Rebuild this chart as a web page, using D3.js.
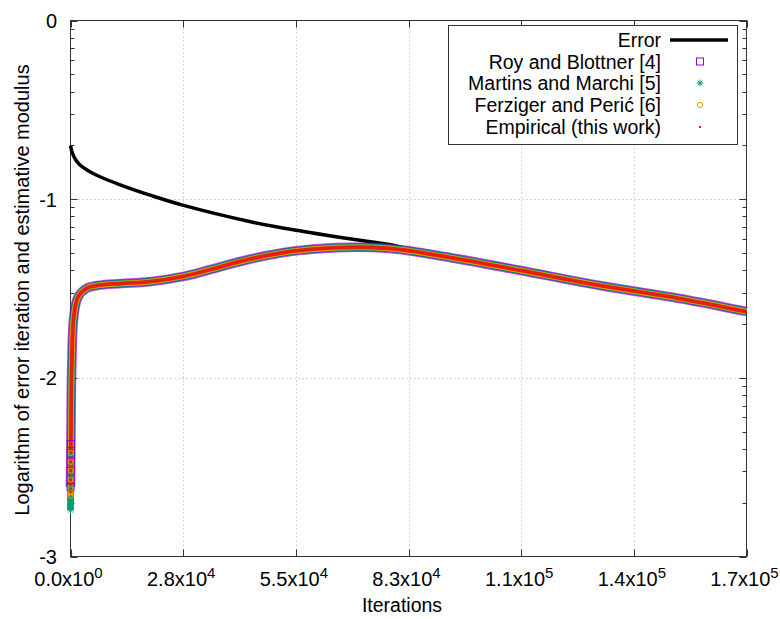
<!DOCTYPE html>
<html><head><meta charset="utf-8">
<script src="https://cdn.jsdelivr.net/npm/d3@7"></script>
<style>body{margin:0;background:#fff}svg{display:block}text{font-family:"Liberation Sans",Arial,sans-serif;fill:#000}</style>
</head><body><svg id="c" width="780" height="619"></svg>
<script>
// ---- data ----
const xTicks = [0, 27600, 55200, 82800, 110400, 138000, 165600];
const xTickMant = ["0.0", "2.8", "5.5", "8.3", "1.1", "1.4", "1.7"];
const xTickExp = ["0", "4", "4", "4", "5", "5", "5"];
const yTicks = [0, -1, -2, -3];
const yTickLabels = ["0", "-1", "-2", "-3"];

const errIter = [0, 490, 1225, 2205, 4650, 7100, 12000, 20100, 27700, 43850, 54900, 68350, 78150, 82800, 92850, 110250, 129600, 149200, 165600];
const errVal = [-0.70, -0.744, -0.778, -0.806, -0.845, -0.873, -0.918, -0.982, -1.035, -1.125, -1.173, -1.222, -1.254, -1.280, -1.326, -1.399, -1.483, -1.556, -1.629];

const estIter = [0, 120, 320, 800, 1800, 3850, 6600, 12500, 19350, 27700, 34050, 43850, 54900, 65150, 78150, 92850, 110250, 129600, 149200, 165600];
const royVal = [-2.61, -2.29, -1.92, -1.66, -1.55, -1.50, -1.483, -1.472, -1.462, -1.432, -1.395, -1.336, -1.290, -1.271, -1.276, -1.326, -1.399, -1.483, -1.556, -1.629];
const martinsVal = [-2.74, -2.29, -1.92, -1.66, -1.55, -1.50, -1.483, -1.472, -1.462, -1.432, -1.395, -1.336, -1.290, -1.271, -1.276, -1.326, -1.399, -1.483, -1.556, -1.629];
const ferzigerVal = [-2.66, -2.29, -1.92, -1.66, -1.55, -1.50, -1.483, -1.472, -1.462, -1.432, -1.395, -1.336, -1.290, -1.271, -1.276, -1.326, -1.399, -1.483, -1.556, -1.629];
const empiricalVal = [-2.64, -2.29, -1.92, -1.66, -1.55, -1.50, -1.483, -1.472, -1.462, -1.432, -1.395, -1.336, -1.290, -1.271, -1.276, -1.326, -1.399, -1.483, -1.556, -1.629];

const earlyIter = [10, 30, 50, 70, 90, 110];
const royEarly = [-2.61, -2.57, -2.52, -2.47, -2.42, -2.37];
const martinsEarly = [-2.74, -2.675, -2.61, -2.55, -2.49, -2.43];
const ferzigerEarly = [-2.66, -2.62, -2.57, -2.52, -2.47, -2.42];
const empiricalEarly = [-2.64, -2.60, -2.55, -2.50, -2.45, -2.40];

const seriesNames = ["Error", "Roy and Blottner [4]", "Martins and Marchi [5]", "Ferziger and Perić [6]", "Empirical (this work)"];

// ---- layout ----
const svg = d3.select("#c");
const L = 70.5, R = 746.5, T = 20.5, B = 556.5;
const x = d3.scaleLinear().domain([0, 165600]).range([L, R]);
const y = d3.scaleLinear().domain([-3, 0]).range([B, T]);

// grid
const g = svg.append("g");
g.selectAll(".vg").data(xTicks.slice(1, -1)).enter().append("line")
  .attr("x1", d => Math.round(x(d)) + 0.5).attr("x2", d => Math.round(x(d)) + 0.5)
  .attr("y1", T).attr("y2", B).attr("stroke", "#c8c8c8").attr("stroke-dasharray", "1.5,2.5");
g.selectAll(".hg").data(yTicks.slice(1, -1)).enter().append("line")
  .attr("y1", d => Math.round(y(d)) + 0.5).attr("y2", d => Math.round(y(d)) + 0.5)
  .attr("x1", L).attr("x2", R).attr("stroke", "#c8c8c8").attr("stroke-dasharray", "1.5,2.5");

// ticks (inward, mirrored)
const minorY = [];
for (let n = -3; n < 0; n++) for (let k = 2; k <= 9; k++) minorY.push(n + Math.log10(k));
const tk = svg.append("g").attr("stroke", "#333").attr("stroke-width", 1);
yTicks.forEach(v => {
  const yy = Math.round(y(v)) + 0.5;
  tk.append("line").attr("x1", L).attr("x2", L + 7).attr("y1", yy).attr("y2", yy);
  tk.append("line").attr("x1", R).attr("x2", R - 7).attr("y1", yy).attr("y2", yy);
});
minorY.forEach(v => {
  const yy = Math.round(y(v)) + 0.5;
  tk.append("line").attr("x1", L).attr("x2", L + 4).attr("y1", yy).attr("y2", yy);
  tk.append("line").attr("x1", R).attr("x2", R - 4).attr("y1", yy).attr("y2", yy);
});
xTicks.forEach(v => {
  const xx = Math.round(x(v)) + 0.5;
  tk.append("line").attr("x1", xx).attr("x2", xx).attr("y1", B).attr("y2", B - 7);
  tk.append("line").attr("x1", xx).attr("x2", xx).attr("y1", T).attr("y2", T + 7);
});

// frame
svg.append("rect").attr("x", L).attr("y", T).attr("width", R - L).attr("height", B - T)
  .attr("fill", "none").attr("stroke", "#333").attr("stroke-width", 1);

// tick labels
yTicks.forEach((v, i) => {
  svg.append("text").attr("x", 57).attr("y", y(v) + 7.5).attr("text-anchor", "end")
    .attr("font-size", 20).text(yTickLabels[i]);
});
xTicks.forEach((v, i) => {
  const t = svg.append("text").attr("x", x(v) - 2).attr("y", 586).attr("text-anchor", "middle").attr("font-size", 20);
  t.append("tspan").text(xTickMant[i] + "x10");
  t.append("tspan").attr("dy", -8).attr("font-size", 15).text(xTickExp[i]);
});

// axis titles
svg.append("text").attr("x", 402).attr("y", 612).attr("text-anchor", "middle").attr("font-size", 19.5).text("Iterations");
svg.append("text").attr("transform", "translate(29,290) rotate(-90)").attr("text-anchor", "middle")
  .attr("font-size", 20).text("Logarithm of error iteration and estimative modulus");

// lines
const zip = (a, b) => a.map((v, i) => [v, b[i]]);
const line = d3.line().x(d => x(d[0])).y(d => y(d[1])).curve(d3.curveCatmullRom.alpha(0.5));

svg.append("path").datum(zip(errIter, errVal)).attr("d", line)
  .attr("fill", "none").attr("stroke", "#000").attr("stroke-width", 3.5);

const bands = [
  {vals: royVal, color: "#9400d3", w: 9.6, op: 0.7},
  {vals: royVal, color: "#4a3aa8", w: 7.8, op: 1},
  {vals: martinsVal, color: "#009e73", w: 6.8, op: 1},
  {vals: ferzigerVal, color: "#e69f00", w: 5.6, op: 1},
  {vals: empiricalVal, color: "#e51e10", w: 3.8, op: 1}
];
bands.forEach(b => {
  svg.append("path").datum(zip(estIter, b.vals)).attr("d", line)
    .attr("fill", "none").attr("stroke", b.color).attr("stroke-width", b.w).attr("stroke-opacity", b.op);
});

// early markers
function square(sel, cx, cy) {
  sel.append("rect").attr("x", cx - 3.5).attr("y", cy - 3.5).attr("width", 7).attr("height", 7)
    .attr("fill", "none").attr("stroke", "#9400d3").attr("stroke-width", 1);
}
function star(sel, cx, cy) {
  const s = 3.5, gg = sel.append("g").attr("stroke", "#009e73").attr("stroke-width", 1);
  gg.append("line").attr("x1", cx - s).attr("x2", cx + s).attr("y1", cy).attr("y2", cy);
  gg.append("line").attr("x1", cx).attr("x2", cx).attr("y1", cy - s).attr("y2", cy + s);
  gg.append("line").attr("x1", cx - s * .7).attr("x2", cx + s * .7).attr("y1", cy - s * .7).attr("y2", cy + s * .7);
  gg.append("line").attr("x1", cx - s * .7).attr("x2", cx + s * .7).attr("y1", cy + s * .7).attr("y2", cy - s * .7);
}
function circ(sel, cx, cy) {
  sel.append("circle").attr("cx", cx).attr("cy", cy).attr("r", 2.6).attr("fill", "none").attr("stroke", "#e69f00").attr("stroke-width", 1);
}
function dot(sel, cx, cy) {
  sel.append("rect").attr("x", cx - 1).attr("y", cy - 1).attr("width", 2).attr("height", 2).attr("fill", "#e51e10");
}
const mk = svg.append("g");
earlyIter.forEach((it, i) => square(mk, x(it), y(royEarly[i])));
earlyIter.forEach((it, i) => star(mk, x(it), y(martinsEarly[i])));
earlyIter.forEach((it, i) => circ(mk, x(it), y(ferzigerEarly[i])));
earlyIter.forEach((it, i) => dot(mk, x(it), y(empiricalEarly[i])));

// legend
const lg = svg.append("g");
lg.append("rect").attr("x", 448.5).attr("y", 25.5).attr("width", 289).attr("height", 119)
  .attr("fill", "#fff").attr("stroke", "#333").attr("stroke-width", 1);
const rowY = [40, 61.5, 83, 105, 127];
seriesNames.forEach((n, i) => {
  lg.append("text").attr("x", 661).attr("y", rowY[i] + 7).attr("text-anchor", "end").attr("font-size", 19.5).text(n);
});
lg.append("line").attr("x1", 670).attr("x2", 728).attr("y1", rowY[0]).attr("y2", rowY[0]).attr("stroke", "#000").attr("stroke-width", 3.5);
square(lg, 700, rowY[1]);
star(lg, 700, rowY[2]);
circ(lg, 700, rowY[3]);
dot(lg, 700, rowY[4]);
</script></body></html>
